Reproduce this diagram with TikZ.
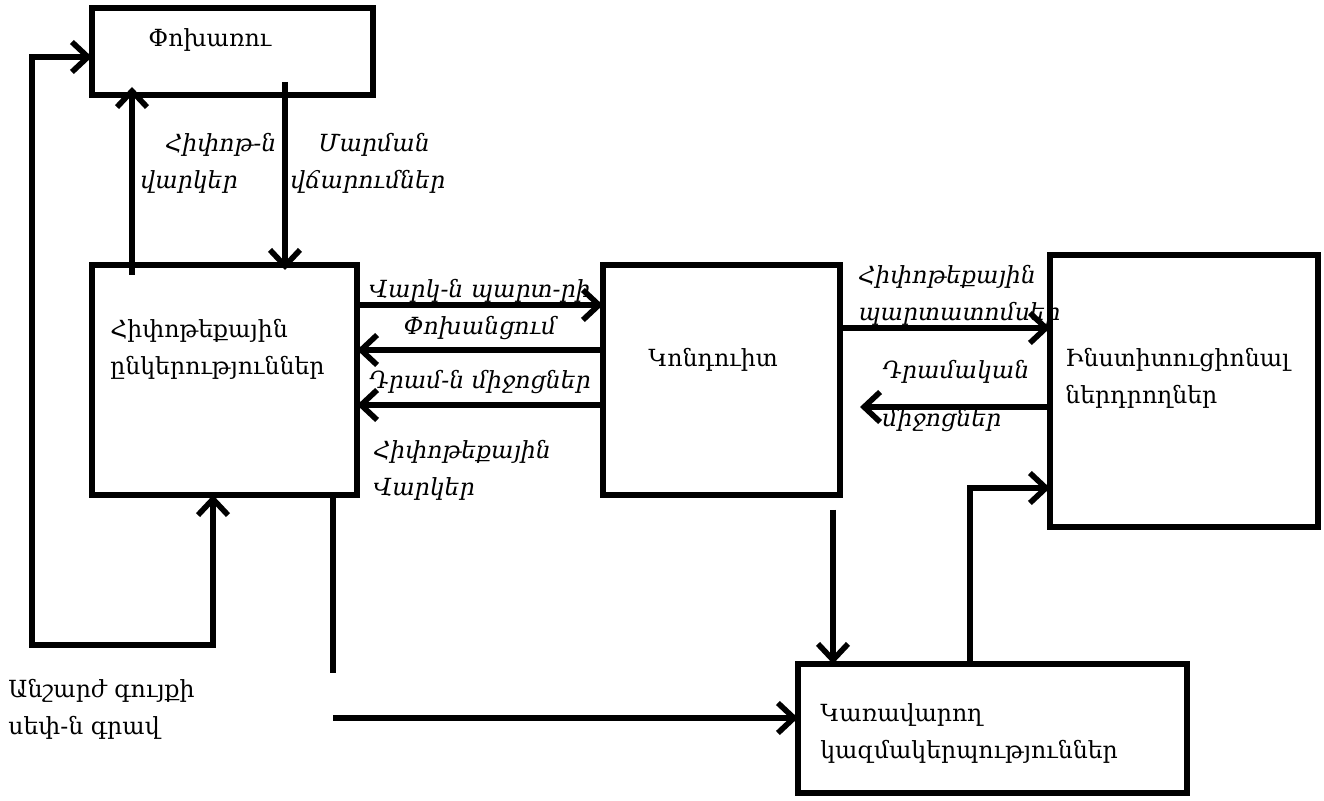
\documentclass[tikz,border=0pt]{standalone}
\usepackage{fontspec}
\setmainfont{DejaVu Serif}
\usetikzlibrary{arrows.meta,calc}
\begin{document}
\begin{tikzpicture}[x=0.5pt,y=-0.5pt,
  box/.style={draw, line width=2.8pt, outer sep=0pt, inner sep=0pt, anchor=north west},
  arr/.style={-{Straight Barb[length=8pt,width=15pt]}, line width=2.8pt},
  dbl/.style={{Straight Barb[length=8pt,width=15pt]}-{Straight Barb[length=8pt,width=15pt]}, line width=2.8pt},
  ln/.style={line width=2.8pt},
  txt/.style={font=\fontsize{11.8}{18.5}\selectfont, align=left, inner sep=0pt, anchor=west},
  lbl/.style={font=\itshape\fontsize{11.8}{18.5}\selectfont, align=left, inner sep=0pt, anchor=west}]
\useasboundingbox (0,0) rectangle (1324,801);
% boxes
\node[box, minimum width=140.5pt, minimum height=43.5pt] (borrower) at (92,8) {};
\node[box, minimum width=132.5pt, minimum height=115pt] (hipotek) at (92,265) {};
\node[box, minimum width=118.5pt, minimum height=115pt] (kondut) at (603,265) {};
\node[box, minimum width=134pt, minimum height=136pt] (inst) at (1050,255) {};
\node[box, minimum width=194.5pt, minimum height=64.5pt] (karav) at (798,664) {};
% box texts
\node[txt] (tBorrower) at (148,40) {Փոխառու};
\node[txt] (tHipotek) at (110,349) {Հիփոթեքային\\ընկերություններ};
\node[txt] (tKondut) at (648,360) {Կոնդուիտ};
\node[txt] (tInst) at (1065,378) {Ինստիտուցիոնալ\\ներդրողներ};
\node[txt] (tKarav) at (820,733) {Կառավարող\\կազմակերպություններ};
\node[txt] (tGrav) at (8,709) {Անշարժ գույքի\\սեփ-ն գրավ};
% labels
\node[lbl] (l1a) at (165,145) {Հիփոթ-ն};
\node[lbl] (l1b) at (140,182) {վարկեր};
\node[lbl] (l2a) at (318,145) {Մարման};
\node[lbl] (l2b) at (290,182) {վճարումներ};
\node[lbl, anchor=center, align=center] (l3) at (480,310) {Վարկ-ն պարտ-րի\\Փոխանցում};
\node[lbl, anchor=center] (l4) at (480,382) {Դրամ-ն միջոցներ};
\node[lbl] (l5) at (373,470) {Հիփոթեքային\\Վարկեր};
\node[lbl] (l6) at (858,295) {Հիփոթեքային\\պարտատոմսեր};
\node[lbl] (l7a) at (882,372) {Դրամական};
\node[lbl] (l7b) at (882,420) {միջոցներ};
% connectors
\draw[arr] ($(hipotek.north west)+(40,10)$) -- ($(borrower.south west)+(40,-8)$);
\draw[arr] ($(borrower.south west)+(193,-13)$) -- ($(hipotek.north west)+(193,5)$);
\draw[arr] (hipotek.east |- 0,305) -- (kondut.west |- 0,305);
\draw[arr] (kondut.west |- 0,350) -- (hipotek.east |- 0,350);
\draw[arr] (kondut.west |- 0,405) -- (hipotek.east |- 0,405);
\draw[arr] (kondut.east |- 0,328) -- (inst.west |- 0,328);
\coordinate (cashTip) at ($(kondut.east |- 0,407)+(20,0)$);
\draw[arr] (inst.west |- 0,407) -- (cashTip);
\coordinate (kdStart) at ($(kondut.south -| 833,0)+(0,15)$);
\draw[arr] (kdStart) -- (karav.north -| 833,0);
\draw[arr] (karav.north -| 970,0) |- (inst.west |- 0,488);
\coordinate (loopCorner) at (213,645);
\draw[dbl] (hipotek.south -| 213,0) -- (loopCorner) -| (32,57) -- (borrower.west |- 0,57);
\coordinate (gravEnd) at (333,673);
\draw[ln] (hipotek.south -| 333,0) -- (gravEnd);
\coordinate (gravStart) at (333,718);
\draw[arr] (gravStart) -- (karav.west |- 0,718);
\end{tikzpicture}
\end{document}
